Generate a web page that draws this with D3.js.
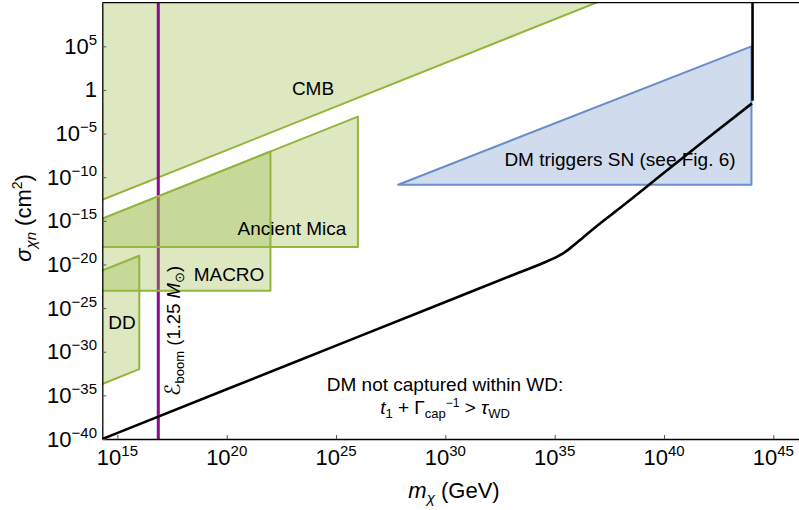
<!DOCTYPE html>
<html>
<head>
<meta charset="utf-8">
<script src="https://cdn.jsdelivr.net/npm/d3@7"></script>
<style>
  body { margin: 0; background: #fff; }
  text { font-family: "Liberation Sans", Arial, Helvetica, sans-serif; fill: #000; }
</style>
</head>
<body>
<svg id="chart" width="799" height="510"></svg>
<script>
// Axis ticks, as log10 of the value
const xTickExps = [15, 20, 25, 30, 35, 40, 45];
const yTickExps = [5, 0, -5, -10, -15, -20, -25, -30, -35, -40];

// Excluded regions: vertices as [log10 mχ/GeV, log10 σ/cm²]
const cmbRegion   = [[14.0, -12.9], [37.1, 10.2], [14.0, 10.2]];
const micaRegion  = [[14.0, -15.05], [26.0, -3.05], [26.0, -18.0], [14.0, -18.0]];
const macroRegion = [[14.0, -15.05], [22.0, -7.05], [22.0, -23.0], [14.0, -23.0]];
const ddRegion    = [[14.0, -21.0], [16.0, -19.0], [16.0, -32.0], [14.0, -34.0]];
const snRegion    = [[27.84, -10.86], [44.0, 5.0], [44.0, -10.86]];

// Capture boundary of dark matter in the white dwarf
const captureCurve = [
  [14.31, -40.0], [20.0, -34.3], [25.0, -29.3], [30.0, -24.3], [33.0, -21.3],
  [34.5, -19.8], [35.0, -19.25], [35.4, -18.7], [35.8, -17.95], [36.3, -16.9],
  [37.0, -15.45], [38.0, -13.5], [40.0, -9.5], [42.0, -5.5], [44.02, -1.55]
];
const captureWall = [[44.05, -1.25], [44.05, 10.2]];

// Boom energy mass for a 1.25 solar-mass white dwarf
const boomMassExp = 16.87;

const plot = { left: 102.3, right: 799, top: 2.7, bottom: 439 };

const x = d3.scaleLog().domain([10 ** 14.309, 10 ** 46.175]).range([plot.left, plot.right]);
const y = d3.scaleLog().domain([1e-40, 1e10]).range([plot.bottom, plot.top]);
const px = e => x(10 ** e[0]);
const py = e => y(10 ** e[1]);

const svg = d3.select("#chart");

svg.append("defs").append("clipPath").attr("id", "plotClip")
  .append("rect")
  .attr("x", plot.left).attr("y", plot.top)
  .attr("width", plot.right - plot.left).attr("height", plot.bottom - plot.top);

const g = svg.append("g").attr("clip-path", "url(#plotClip)");

const poly = d3.line().x(px).y(py);

const greenFill = "#9bbb48", greenStroke = "#93b53c";

function region(pts, fill, stroke, op) {
  g.append("path")
    .attr("d", poly(pts) + "Z")
    .attr("fill", fill).attr("fill-opacity", op)
    .attr("stroke", stroke).attr("stroke-width", 2)
    .attr("stroke-linejoin", "round");
}

region(cmbRegion, greenFill, greenStroke, 0.34);

// vertical boom-mass line
g.append("line")
  .attr("x1", x(10 ** boomMassExp)).attr("x2", x(10 ** boomMassExp))
  .attr("y1", plot.top).attr("y2", plot.bottom)
  .attr("stroke", "#8a0c8a").attr("stroke-width", 3);

region(micaRegion, greenFill, greenStroke, 0.34);
region(macroRegion, greenFill, greenStroke, 0.34);
region(ddRegion, greenFill, greenStroke, 0.34);
region(snRegion, "#6d90c8", "#6a8ec8", 0.32);

// capture curve
g.append("path")
  .attr("d", d3.line().x(px).y(py).curve(d3.curveMonotoneX)(captureCurve))
  .attr("fill", "none").attr("stroke", "#000").attr("stroke-width", 2.6);
g.append("path")
  .attr("d", d3.line().x(px).y(py)(captureWall))
  .attr("fill", "none").attr("stroke", "#000").attr("stroke-width", 2.6);

// axes with inward ticks
const xAxis = d3.axisBottom(x)
  .tickValues(xTickExps.map(e => 10 ** e))
  .tickSize(-4).tickSizeOuter(0).tickFormat("");
const xg = svg.append("g").attr("transform", `translate(0,${plot.bottom})`).call(xAxis);
xg.select(".domain").attr("stroke", "#000").attr("stroke-width", 1.3);
xg.selectAll(".tick line").attr("stroke", "#555");

const yAxis = d3.axisLeft(y)
  .tickValues(yTickExps.map(e => 10 ** e))
  .tickSize(-4).tickSizeOuter(0).tickFormat("");
const yg = svg.append("g").attr("transform", `translate(${plot.left},0)`).call(yAxis);
yg.select(".domain").attr("stroke", "#000").attr("stroke-width", 1.3);
yg.selectAll(".tick line").attr("stroke", "#555");

// top frame
svg.append("line")
  .attr("x1", plot.left).attr("x2", plot.right)
  .attr("y1", plot.top).attr("y2", plot.top)
  .attr("stroke", "#000").attr("stroke-width", 1.3);

const fmtExp = e => (e < 0 ? "\u2212" + (-e) : String(e));

// x tick labels
xTickExps.forEach(e => {
  const t = svg.append("text")
    .attr("x", x(10 ** e)).attr("y", 465)
    .attr("text-anchor", "middle").style("font-size", "22px");
  t.append("tspan").text("10");
  t.append("tspan").attr("dy", -9).style("font-size", "15px").text(fmtExp(e));
});

// y tick labels
yTickExps.forEach(e => {
  const t = svg.append("text")
    .attr("x", 97).attr("y", y(10 ** e) + 7.5)
    .attr("text-anchor", "end").style("font-size", "22px");
  if (e === 0) { t.text("1"); return; }
  t.append("tspan").text("10");
  t.append("tspan").attr("dy", -9).style("font-size", "15px").text(fmtExp(e));
});

// axis titles
const xt = svg.append("text")
  .attr("x", 454).attr("y", 498).attr("text-anchor", "middle").style("font-size", "22px");
xt.append("tspan").style("font-style", "italic").text("m");
xt.append("tspan").attr("dy", 5).style("font-size", "15px").style("font-style", "italic").text("\u03C7");
xt.append("tspan").attr("dy", -5).text(" (GeV)");

const yt = svg.append("text")
  .attr("transform", "translate(31,218) rotate(-90)")
  .attr("text-anchor", "middle").style("font-size", "22px");
yt.append("tspan").style("font-style", "italic").text("\u03C3");
yt.append("tspan").attr("dy", 5).style("font-size", "15px").style("font-style", "italic").text("\u03C7n");
yt.append("tspan").attr("dy", -5).text(" (cm");
yt.append("tspan").attr("dy", -9).style("font-size", "14px").text("2");
yt.append("tspan").attr("dy", 9).text(")");

// region labels
function label(txt, cx, by) {
  svg.append("text").attr("x", cx).attr("y", by)
    .attr("text-anchor", "middle").style("font-size", "19px").text(txt);
}
label("CMB", 313, 95);
label("DM triggers SN (see Fig. 6)", 620, 165.5);
label("Ancient Mica", 292, 234.5);
label("MACRO", 229, 280.5);
label("DD", 122, 329);
label("DM not captured within WD:", 445, 391);

const l2 = svg.append("text")
  .attr("x", 445).attr("y", 414).attr("text-anchor", "middle").style("font-size", "19px");
l2.append("tspan").style("font-style", "italic").text("t");
l2.append("tspan").attr("dy", 4).style("font-size", "13px").text("1");
l2.append("tspan").attr("dy", -4).text(" + \u0393");
l2.append("tspan").attr("dy", 4).style("font-size", "13px").text("cap");
l2.append("tspan").attr("dy", -11).style("font-size", "12px").text("\u22121");
l2.append("tspan").attr("dy", 7).text(" > ");
l2.append("tspan").style("font-style", "italic").text("\u03C4");
l2.append("tspan").attr("dy", 4).style("font-size", "13px").text("WD");

// boom-mass label, rotated along the purple line
const bl = svg.append("text")
  .attr("transform", "translate(179.5,331) rotate(-90)")
  .attr("text-anchor", "middle").style("font-size", "18.5px");
bl.append("tspan").style("font-family", "'DejaVu Sans', 'Noto Sans', sans-serif")
  .style("font-size", "21px").text("\u2130");
bl.append("tspan").attr("dy", 4).style("font-size", "13px").text("boom");
bl.append("tspan").attr("dy", -4).text(" (1.25 ");
bl.append("tspan").style("font-style", "italic").text("M");
bl.append("tspan").attr("dy", 4).style("font-size", "13px").text("\u2299");
bl.append("tspan").attr("dy", -4).text(")");
</script>
</body>
</html>
